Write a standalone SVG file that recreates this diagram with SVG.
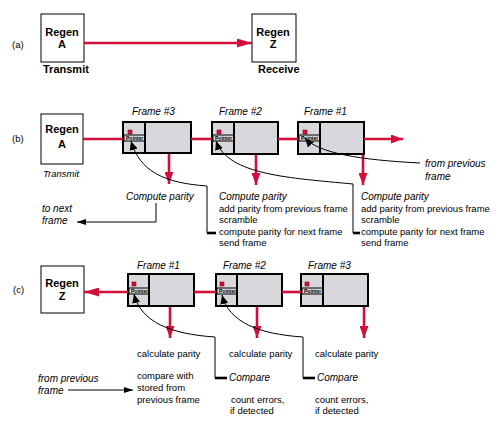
<svg xmlns="http://www.w3.org/2000/svg" width="500" height="422" viewBox="0 0 500 422">
<style>
text{font-family:"Liberation Sans",Arial,sans-serif;fill:#000}
.t{font-size:9.5px}
.i{font-size:10px;font-style:italic}
.b{font-size:11px;font-weight:bold}
.regen{fill:#fff;stroke:#000;stroke-width:1}
.frame{fill:#d8d8dc;stroke:#000;stroke-width:2}
.div{stroke:#000;stroke-width:2}
.strip{stroke:#000;stroke-width:1;fill:none}
.ptr{font-size:5px;font-weight:bold}
.sq{fill:#d0103a;stroke:#900020;stroke-width:0.6}
.red{stroke:#d0103a;stroke-width:2.6;fill:none}
.blk{stroke:#000;stroke-width:1;fill:none}
.stub{stroke:#000;stroke-width:2.6}
</style>
<defs>
<marker id="ra" viewBox="0 0 12 9" refX="12" refY="4.5" markerWidth="12" markerHeight="9" markerUnits="userSpaceOnUse" orient="auto"><path d="M0,0 L12,4.5 L0,9 Z" fill="#d0103a"/></marker>
<marker id="ral" viewBox="0 0 15 9" refX="15" refY="4.5" markerWidth="15" markerHeight="9" markerUnits="userSpaceOnUse" orient="auto"><path d="M0,0 L15,4.5 L0,9 Z" fill="#d0103a"/></marker>
<marker id="ba" viewBox="0 0 9 6" refX="9" refY="3" markerWidth="9" markerHeight="6" markerUnits="userSpaceOnUse" orient="auto"><path d="M0,0 L9,3 L0,6 Z" fill="#000"/></marker>
<marker id="bp" viewBox="0 0 9 8" refX="9" refY="4" markerWidth="9" markerHeight="8" markerUnits="userSpaceOnUse" orient="auto"><path d="M0,0 L9,4 L0,8 Z" fill="#000"/></marker>
</defs>

<!-- labels -->
<text class="t" x="12" y="48">(a)</text>
<text class="t" x="12" y="142">(b)</text>
<text class="t" x="13" y="293">(c)</text>

<!-- (a) -->
<g id="a-regenA">
<rect class="regen" x="41" y="14" width="43" height="48"/>
<text class="b" x="62" y="36" text-anchor="middle">Regen</text>
<text class="b" x="62" y="48" text-anchor="middle">A</text>
<text class="b" x="43" y="73">Transmit</text>
</g>
<g id="a-regenZ">
<rect class="regen" x="252" y="14" width="44" height="48"/>
<text class="b" x="273" y="36" text-anchor="middle">Regen</text>
<text class="b" x="273" y="48" text-anchor="middle">Z</text>
<text class="b" x="258" y="73">Receive</text>
</g>

<!-- (b) -->
<g id="b-regenA">
<rect class="regen" x="41" y="114" width="42" height="50"/>
<text class="b" x="62" y="133" text-anchor="middle">Regen</text>
<text class="b" x="62" y="148" text-anchor="middle">A</text>
<text class="i" x="43" y="177" style="font-size:9.5px">Transmit</text>
</g>
<g id="b-frame3">
<text class="i" x="132" y="115">Frame #3</text>
<rect class="frame" x="123" y="122" width="68" height="31"/>
<line class="div" x1="145" y1="122" x2="145" y2="153"/>
<rect class="strip" x="124" y="135" width="21" height="6"/>
<text class="ptr" x="126" y="140">Pointer</text>
<rect class="sq" x="128" y="130" width="4" height="4"/>
</g>
<g id="b-frame2">
<text class="i" x="219" y="115">Frame #2</text>
<rect class="frame" x="212" y="122" width="66" height="32"/>
<line class="div" x1="234" y1="122" x2="234" y2="154"/>
<rect class="strip" x="213" y="135" width="21" height="6"/>
<text class="ptr" x="215" y="140">Pointer</text>
<rect class="sq" x="217" y="130" width="4" height="4"/>
</g>
<g id="b-frame1">
<text class="i" x="304" y="115">Frame #1</text>
<rect class="frame" x="298" y="122" width="66" height="32"/>
<line class="div" x1="320" y1="122" x2="320" y2="154"/>
<rect class="strip" x="299" y="135" width="21" height="6"/>
<text class="ptr" x="301" y="140">Pointer</text>
<rect class="sq" x="303" y="130" width="4" height="4"/>
</g>
<g id="b-text3">
<text class="i" x="126" y="200">Compute parity</text>
<text class="i" x="42" y="212">to next</text>
<text class="i" x="42" y="224">frame</text>
</g>
<g id="b-text2">
<text class="i" x="219" y="200">Compute parity</text>
<text class="t" x="219" y="212">add parity from previous frame</text>
<text class="t" x="219" y="223">scramble</text>
<text class="t" x="219" y="235">compute parity for next frame</text>
<text class="t" x="219" y="246">send frame</text>
</g>
<g id="b-text1">
<text class="i" x="361" y="200">Compute parity</text>
<text class="t" x="361" y="212">add parity from previous frame</text>
<text class="t" x="361" y="223">scramble</text>
<text class="t" x="361" y="235">compute parity for next frame</text>
<text class="t" x="361" y="246">send frame</text>
</g>
<g id="b-prev">
<text class="i" x="425" y="167">from previous</text>
<text class="i" x="425" y="180">frame</text>
</g>

<!-- (c) -->
<g id="c-regenZ">
<rect class="regen" x="41" y="266" width="43" height="47"/>
<text class="b" x="62" y="287" text-anchor="middle">Regen</text>
<text class="b" x="62" y="300" text-anchor="middle">Z</text>
</g>
<g id="c-frame1">
<text class="i" x="137" y="269">Frame #1</text>
<rect class="frame" x="128" y="274" width="66" height="32"/>
<line class="div" x1="149" y1="274" x2="149" y2="306"/>
<rect class="strip" x="129" y="288" width="20" height="6"/>
<text class="ptr" x="131" y="293">Pointer</text>
<rect class="sq" x="132" y="282" width="4" height="4"/>
</g>
<g id="c-frame2">
<text class="i" x="223" y="269">Frame #2</text>
<rect class="frame" x="216" y="274" width="66" height="32"/>
<line class="div" x1="237" y1="274" x2="237" y2="306"/>
<rect class="strip" x="217" y="288" width="20" height="6"/>
<text class="ptr" x="219" y="293">Pointer</text>
<rect class="sq" x="220" y="282" width="4" height="4"/>
</g>
<g id="c-frame3">
<text class="i" x="308" y="269">Frame #3</text>
<rect class="frame" x="301" y="274" width="67" height="32"/>
<line class="div" x1="323" y1="274" x2="323" y2="306"/>
<rect class="strip" x="302" y="288" width="21" height="6"/>
<text class="ptr" x="304" y="293">Pointer</text>
<rect class="sq" x="305" y="282" width="4" height="4"/>
</g>
<g id="c-text1">
<text class="t" x="137" y="357">calculate parity</text>
<text class="t" x="137" y="379">compare with</text>
<text class="t" x="137" y="391">stored from</text>
<text class="t" x="137" y="403">previous frame</text>
</g>
<g id="c-text2">
<text class="t" x="229" y="357">calculate parity</text>
<text class="i" x="229" y="381">Compare</text>
<text class="t" x="231" y="403">count errors,</text>
<text class="t" x="230" y="414">if detected</text>
</g>
<g id="c-text3">
<text class="t" x="315" y="357">calculate parity</text>
<text class="i" x="317" y="381">Compare</text>
<text class="t" x="315" y="403">count errors,</text>
<text class="t" x="315" y="414">if detected</text>
</g>
<g id="c-prev">
<text class="i" x="38" y="382">from previous</text>
<text class="i" x="38" y="394">frame</text>
</g>

<g id="connectors">
<!-- (a) -->
<line class="red" x1="84" y1="43" x2="252" y2="43" marker-end="url(#ral)"/>
<!-- (b) red -->
<line class="red" x1="83" y1="139" x2="123" y2="139"/>
<line class="red" x1="191" y1="139" x2="212" y2="139"/>
<line class="red" x1="278" y1="139" x2="298" y2="139"/>
<line class="red" x1="364" y1="139" x2="403" y2="139" marker-end="url(#ra)"/>
<line class="red" x1="169" y1="154" x2="169" y2="184" marker-end="url(#ra)"/>
<line class="red" x1="256" y1="155" x2="256" y2="185" marker-end="url(#ra)"/>
<line class="red" x1="363" y1="155" x2="363" y2="185" marker-end="url(#ra)"/>
<!-- (b) black -->
<path class="blk" d="M207,233 L207,186 C165,183 140,172 131,141" marker-end="url(#bp)"/>
<line class="stub" x1="207" y1="233" x2="216" y2="233"/>
<path class="blk" d="M353,233 L353,184 C290,178 228,175 216,141" marker-end="url(#bp)"/>
<line class="stub" x1="353" y1="233" x2="360" y2="233"/>
<path class="blk" d="M420,163 C360,160 318,153 305,138" marker-end="url(#bp)"/>
<path class="blk" d="M156,203 L156,222 L77,222" marker-end="url(#ba)"/>
<!-- (c) red -->
<line class="red" x1="128" y1="292" x2="84" y2="292" marker-end="url(#ral)"/>
<line class="red" x1="194" y1="292" x2="216" y2="292"/>
<line class="red" x1="282" y1="292" x2="301" y2="292"/>
<line class="red" x1="170" y1="307" x2="170" y2="338" marker-end="url(#ra)"/>
<line class="red" x1="257" y1="307" x2="257" y2="338" marker-end="url(#ra)"/>
<line class="red" x1="364" y1="307" x2="364" y2="338" marker-end="url(#ra)"/>
<!-- (c) black -->
<path class="blk" d="M215,378 L215,337 C170,334 141,322 134,294" marker-end="url(#bp)"/>
<line class="stub" x1="215" y1="378" x2="227" y2="378"/>
<path class="blk" d="M303,378 L303,337 C258,334 229,322 222,295" marker-end="url(#bp)"/>
<line class="stub" x1="303" y1="378" x2="315" y2="378"/>
<line class="blk" x1="68" y1="390" x2="133" y2="390" marker-end="url(#ba)"/>
</g>
</svg>
